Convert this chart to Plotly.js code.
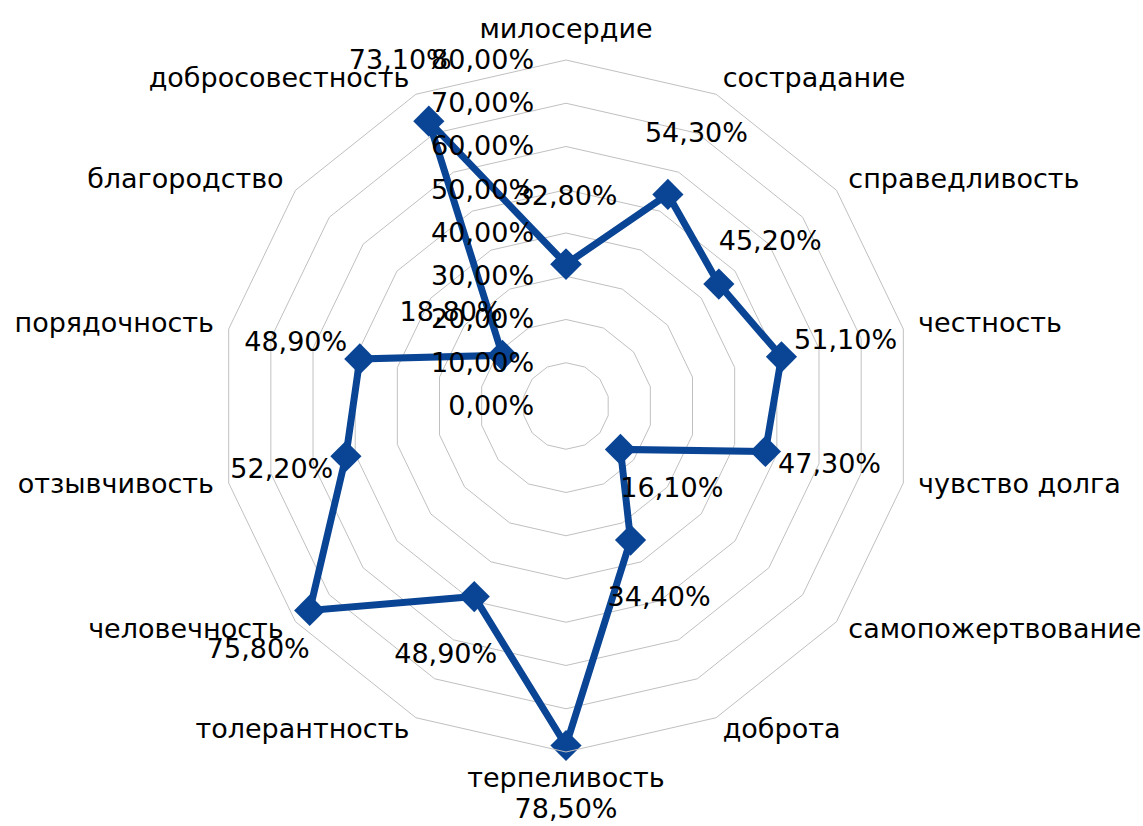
<!DOCTYPE html>
<html>
<head>
<meta charset="utf-8">
<script src="https://cdn.plot.ly/plotly-3.0.1.min.js"></script>
<style>html,body{margin:0;padding:0;background:#fff;}#chart{width:1143px;height:826px;}</style>
</head>
<body>
<div id="chart"></div>
<script>
const categories = ["милосердие","сострадание","справедливость","честность","чувство долга","самопожертвование","доброта","терпеливость","толерантность","человечность","отзывчивость","порядочность","благородство","добросовестность"];
const values = [32.8, 54.3, 45.2, 51.1, 47.3, 16.1, 34.4, 78.5, 48.9, 75.8, 52.2, 48.9, 18.8, 73.1];
const radialTicks = [0, 10, 20, 30, 40, 50, 60, 70, 80];

const r = values.map(v => v / 100);
const labels = values.map(v => v.toFixed(2).replace('.', ',') + '%');
const rMax = radialTicks[radialTicks.length - 1] / 100;
const labelOffset = 0.152;     // data labels sit outward from each point
const catOffset = 0.035;       // category labels sit just outside the outer ring
const FONT = "DejaVu Sans";
const FS = 27;
const COLOR = "#0A4595";

// anchor of each category label, chosen from its side of the chart
const n = categories.length;
const catPositions = categories.map((c, i) => {
  if (i === 0) return 'top center';
  if (2 * i === n) return 'bottom center';
  return i < n / 2 ? 'middle right' : 'middle left';
});

const lineTrace = {
  type: 'scatterpolar',
  subplot: 'polar',
  r: r.concat([r[0]]),
  theta: categories.concat([categories[0]]),
  mode: 'lines+markers',
  line: {color: COLOR, width: 7},
  marker: {symbol: 'diamond', size: 24, color: COLOR},
  hoverinfo: 'skip',
  showlegend: false
};
const textTrace = {
  type: 'scatterpolar',
  subplot: 'polar2',
  r: r.map(v => v + labelOffset),
  theta: categories,
  mode: 'text',
  text: labels,
  textposition: 'middle center',
  textfont: {family: FONT, size: FS, color: '#000'},
  cliponaxis: false,
  hoverinfo: 'skip',
  showlegend: false
};
const catTrace = {
  type: 'scatterpolar',
  subplot: 'polar2',
  r: categories.map(() => rMax + catOffset),
  theta: categories,
  mode: 'text',
  text: categories,
  textposition: catPositions,
  textfont: {family: FONT, size: FS, color: '#000'},
  cliponaxis: false,
  hoverinfo: 'skip',
  showlegend: false
};

const layout = {
  width: 1143, height: 826,
  margin: {l: 0, r: 0, t: 0, b: 0},
  paper_bgcolor: '#fff',
  separators: ', ',
  font: {family: FONT, size: FS, color: '#000'},
  showlegend: false,
  polar: {
    domain: {x: [0.19248, 0.79790], y: [0.08959, 0.92736]},
    bgcolor: 'rgba(0,0,0,0)',
    gridshape: 'linear',
    radialaxis: {
      range: [0, rMax],
      tickvals: radialTicks.map(t => t / 100),
      tickformat: '.2%',
      angle: 90,
      tickangle: 90,
      side: 'counterclockwise',
      showline: false,
      ticks: 'outside',
      ticklen: 22,
      tickcolor: 'rgba(0,0,0,0)',
      gridcolor: '#C0C0C0',
      gridwidth: 1,
      tickfont: {family: FONT, size: FS, color: '#000'}
    },
    angularaxis: {
      direction: 'clockwise',
      rotation: 90,
      showgrid: false,
      showline: true,
      linecolor: '#C0C0C0',
      linewidth: 1,
      ticks: '',
      showticklabels: false
    }
  },
  polar2: {
    domain: {x: [0.14025, 0.85013], y: [0.01731, 0.99964]},
    bgcolor: 'rgba(0,0,0,0)',
    radialaxis: {range: [0, 0.938], visible: false, showgrid: false},
    angularaxis: {
      direction: 'clockwise',
      rotation: 90,
      visible: false,
      showgrid: false,
      showline: false,
      showticklabels: false,
      ticks: ''
    }
  }
};

Plotly.newPlot('chart', [lineTrace, textTrace, catTrace], layout, {displayModeBar: false, staticPlot: true});
</script>
</body>
</html>
